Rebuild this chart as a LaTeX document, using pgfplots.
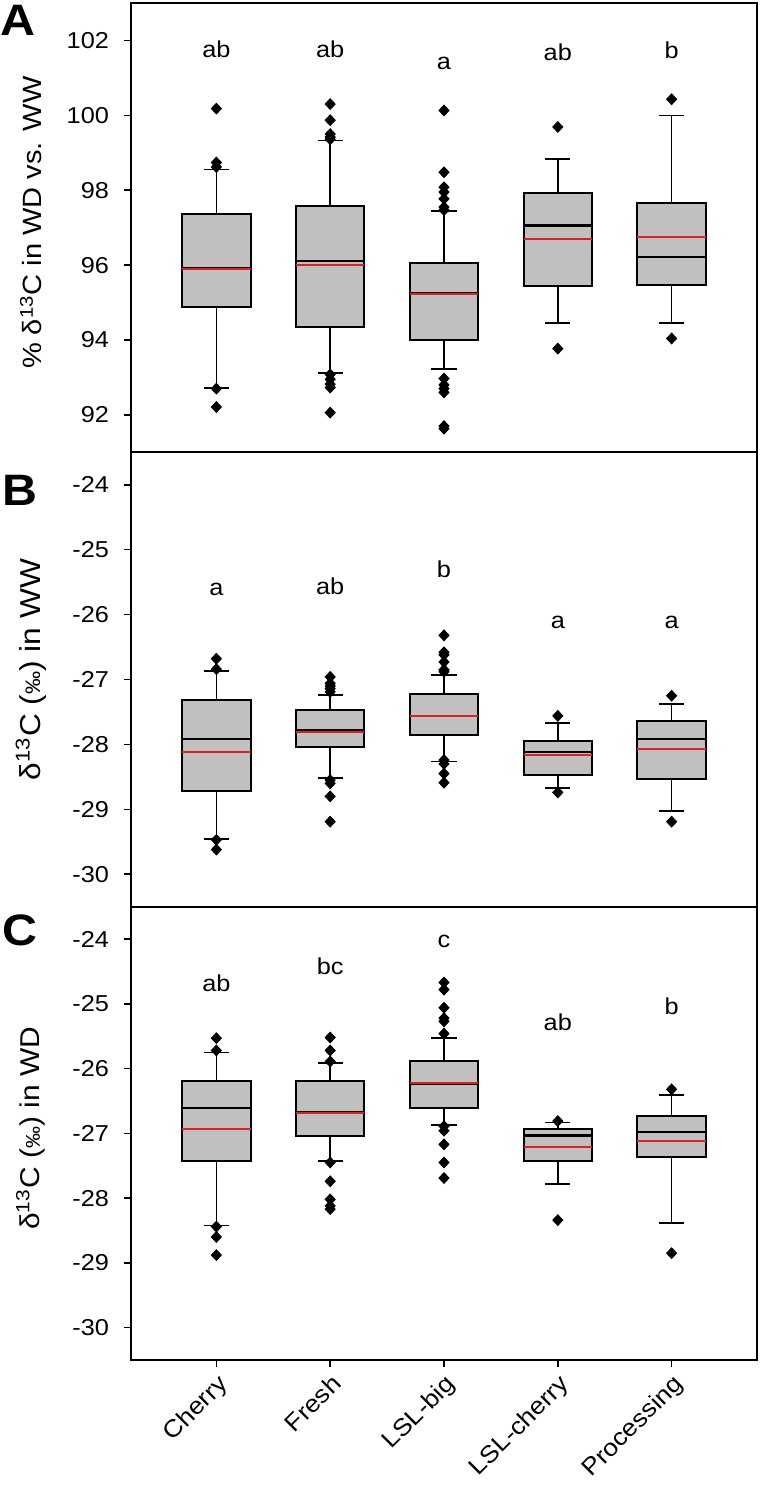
\documentclass[border=0pt]{standalone}
\usepackage{fontspec}
\setmainfont{Liberation Sans}[FakeStretch=1.1]
\usepackage{pgfplots}
\pgfplotsset{compat=1.18}
\usepgfplotslibrary{statistics}
\definecolor{boxgray}{HTML}{C0C0C0}
\definecolor{meanred}{HTML}{E0201B}
\pgfplotsset{
  panel/.style={
    scale only axis, width=313pt,
    xmin=0.25, xmax=5.75,
    axis line style={line width=1pt},
    tick style={black, line width=0.8pt},
    major tick length=3.5pt,
    tick align=outside,
    ytick pos=left,
    xtick pos=bottom,
    /pgf/number format/assume math mode=true,
    tick label style={font=\fontsize{11.5}{13}\selectfont},
    yticklabel style={xshift=-4pt},
    boxplot/draw direction=y,
    boxplot/box extend=0.6,
    boxplot/whisker extend=0.22,
    boxplot/every box/.style={draw=black, line width=1pt, fill=boxgray},
    boxplot/every whisker/.style={draw=black, line width=0.8pt},
    boxplot/every median/.style={draw=black, line width=1.2pt},
    boxplot/draw/average/.code={\draw[meanred, line width=1pt] (boxplot box cs:\pgfplotsboxplotvalue{average},0) -- (boxplot box cs:\pgfplotsboxplotvalue{average},1);},
  },
  ylab/.style={every axis y label/.style={at={(axis description cs:-0.16,#1)}, anchor=center, rotate=90}},
  bx/.style={black, mark=diamond*, mark size=2.7pt, mark options={draw=black, fill=black, xscale=1.25}},
}
\newcommand{\lettfont}{\fontsize{11.5}{13}\selectfont}
\begin{document}
\begin{tikzpicture}
% ---------------- Panel A
\begin{axis}[panel, ylab=0.511, at={(0,0)}, anchor=north west, height=224.65pt,
  ymin=91, ymax=103, ytick={92,94,...,102}, xtick=\empty,
  ylabel={\fontsize{13.2}{15}\selectfont\% δ\textsuperscript{13}C in WD vs. WW}]
\addplot[bx, boxplot prepared={draw position=1, lower whisker=92.72, lower quartile=94.88, median=95.92, upper quartile=97.37, upper whisker=98.55, average=95.9}]
  table[row sep=\\, y index=0] {data\\100.18\\98.74\\98.62\\92.70\\92.21\\};
\addplot[bx, boxplot prepared={draw position=2, lower whisker=93.12, lower quartile=94.34, median=96.11, upper quartile=97.57, upper whisker=99.33, average=96.01}]
  table[row sep=\\, y index=0] {data\\100.30\\99.87\\99.50\\99.42\\99.36\\93.08\\92.95\\92.82\\92.73\\92.06\\};
\addplot[bx, boxplot prepared={draw position=3, lower whisker=93.23, lower quartile=94.00, median=95.26, upper quartile=96.06, upper whisker=97.44, average=95.23}]
  table[row sep=\\, y index=0] {data\\100.13\\98.48\\98.08\\97.95\\97.77\\97.55\\97.47\\92.97\\92.80\\92.70\\92.60\\91.70\\91.63\\};
\addplot[bx, boxplot prepared={draw position=4, lower whisker=94.45, lower quartile=95.43, median=97.06, upper quartile=97.92, upper whisker=98.83, average=96.70}]
  table[row sep=\\, y index=0] {data\\99.69\\93.77\\};
\addplot[bx, boxplot prepared={draw position=5, lower whisker=94.45, lower quartile=95.48, median=96.21, upper quartile=97.67, upper whisker=100.00, average=96.74}]
  table[row sep=\\, y index=0] {data\\100.43\\94.04\\};
\node[font=\lettfont] at (axis cs:1,101.76) {ab};
\node[font=\lettfont] at (axis cs:2,101.76) {ab};
\node[font=\lettfont] at (axis cs:3,101.38) {a};
\node[font=\lettfont] at (axis cs:4,101.69) {ab};
\node[font=\lettfont] at (axis cs:5,101.73) {b};
\end{axis}
% ---------------- Panel B
\begin{axis}[panel, ylab=0.522, at={(0,-224.65pt)}, anchor=north west, height=227.2pt,
  ymin=-30.5, ymax=-23.5, ytick={-30,-29,...,-24}, xtick=\empty,
  ylabel={\fontsize{14.4}{16}\selectfont δ\textsuperscript{13}C ({\fontsize{10.5}{11}\selectfont ‰}) in WW}]
\addplot[bx, boxplot prepared={draw position=1, lower whisker=-29.46, lower quartile=-28.72, median=-27.92, upper quartile=-27.32, upper whisker=-26.87, average=-28.12}]
  table[row sep=\\, y index=0] {data\\-26.68\\-26.84\\-29.47\\-29.62\\};
\addplot[bx, boxplot prepared={draw position=2, lower whisker=-28.52, lower quartile=-28.04, median=-27.78, upper quartile=-27.47, upper whisker=-27.24, average=-27.81}]
  table[row sep=\\, y index=0] {data\\-26.96\\-27.06\\-27.10\\-27.14\\-27.19\\-28.55\\-28.60\\-28.80\\-29.19\\};
\addplot[bx, boxplot prepared={draw position=3, lower whisker=-28.26, lower quartile=-27.85, median=-27.56, upper quartile=-27.22, upper whisker=-26.93, average=-27.56}]
  table[row sep=\\, y index=0] {data\\-26.32\\-26.58\\-26.62\\-26.73\\-26.85\\-26.88\\-28.24\\-28.30\\-28.45\\-28.59\\};
\addplot[bx, boxplot prepared={draw position=4, lower whisker=-28.67, lower quartile=-28.47, median=-28.12, upper quartile=-27.95, upper whisker=-27.67, average=-28.17}]
  table[row sep=\\, y index=0] {data\\-27.56\\-28.74\\};
\addplot[bx, boxplot prepared={draw position=5, lower whisker=-29.03, lower quartile=-28.53, median=-27.92, upper quartile=-27.64, upper whisker=-27.38, average=-28.07}]
  table[row sep=\\, y index=0] {data\\-27.25\\-29.19\\};
\node[font=\lettfont] at (axis cs:1,-25.61) {a};
\node[font=\lettfont] at (axis cs:2,-25.56) {ab};
\node[font=\lettfont] at (axis cs:3,-25.30) {b};
\node[font=\lettfont] at (axis cs:4,-26.12) {a};
\node[font=\lettfont] at (axis cs:5,-26.12) {a};
\end{axis}
% ---------------- Panel C
\begin{axis}[panel, ylab=0.511, at={(0,-451.85pt)}, anchor=north west, height=226.65pt,
  ymin=-30.5, ymax=-23.5, ytick={-30,-29,...,-24},
  xtick={1,2,3,4,5}, xticklabels={Cherry,Fresh,LSL-big,LSL-cherry,Processing},
  x tick label style={rotate=45, anchor=north east, inner sep=2pt, font=\fontsize{12}{13}\selectfont},
  ylabel={\fontsize{13.6}{15}\selectfont δ\textsuperscript{13}C ({\fontsize{10}{11}\selectfont ‰}) in WD}]
\addplot[bx, boxplot prepared={draw position=1, lower whisker=-28.42, lower quartile=-27.43, median=-26.61, upper quartile=-26.19, upper whisker=-25.75, average=-26.93}]
  table[row sep=\\, y index=0] {data\\-25.53\\-25.72\\-28.44\\-28.60\\-28.88\\};
\addplot[bx, boxplot prepared={draw position=2, lower whisker=-27.43, lower quartile=-27.04, median=-26.68, upper quartile=-26.19, upper whisker=-25.91, average=-26.68}]
  table[row sep=\\, y index=0] {data\\-25.52\\-25.72\\-25.89\\-27.45\\-27.74\\-28.02\\-28.12\\-28.17\\};
\addplot[bx, boxplot prepared={draw position=3, lower whisker=-26.87, lower quartile=-26.61, median=-26.24, upper quartile=-25.88, upper whisker=-25.53, average=-26.22}]
  table[row sep=\\, y index=0] {data\\-24.67\\-24.78\\-25.06\\-25.22\\-25.27\\-25.46\\-26.89\\-26.96\\-27.17\\-27.45\\-27.69\\};
\addplot[bx, boxplot prepared={draw position=4, lower whisker=-27.78, lower quartile=-27.43, median=-27.03, upper quartile=-26.94, upper whisker=-26.83, average=-27.21}]
  table[row sep=\\, y index=0] {data\\-26.81\\-28.34\\};
\addplot[bx, boxplot prepared={draw position=5, lower whisker=-28.38, lower quartile=-27.36, median=-26.98, upper quartile=-26.73, upper whisker=-26.41, average=-27.12}]
  table[row sep=\\, y index=0] {data\\-26.32\\-28.85\\};
\node[font=\lettfont] at (axis cs:1,-24.69) {ab};
\node[font=\lettfont] at (axis cs:2,-24.42) {bc};
\node[font=\lettfont] at (axis cs:3,-24.04) {c};
\node[font=\lettfont] at (axis cs:4,-25.28) {ab};
\node[font=\lettfont] at (axis cs:5,-25.03) {b};
\end{axis}
% panel letters
\node[anchor=base west, inner sep=0pt, font=\bfseries\fontsize{22}{24}\selectfont] at (-65.5pt,-16pt) {A};
\node[anchor=base west, inner sep=0pt, font=\bfseries\fontsize{22}{24}\selectfont] at (-64.5pt,-251pt) {B};
\node[anchor=base west, inner sep=0pt, font=\bfseries\fontsize{22}{24}\selectfont] at (-64.5pt,-471pt) {C};
\pgfresetboundingbox
\path (-65.5pt,1.5pt) rectangle (315.5pt,-746pt);
\end{tikzpicture}
\end{document}
